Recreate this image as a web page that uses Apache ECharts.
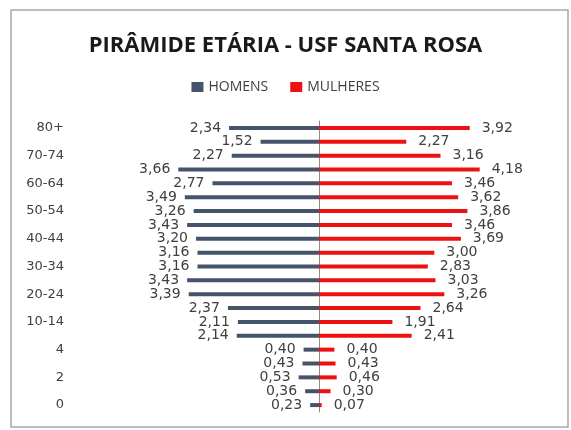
<!DOCTYPE html>
<html>
<head>
<meta charset="utf-8">
<script src="https://cdn.jsdelivr.net/npm/echarts@6/dist/echarts.min.js"></script>
<style>
  html, body { margin: 0; padding: 0; background: #fff; }
  #chart { width: 571px; height: 430px; }
</style>
</head>
<body>
<div id="chart"></div>
<script>
// faixas etárias, de cima para baixo
var faixas = ['80+', '75-79', '70-74', '65-69', '60-64', '55-59', '50-54', '45-49',
  '40-44', '35-39', '30-34', '25-29', '20-24', '15-19', '10-14', '5-9',
  '4', '3', '2', '1', '0'];
var homens = [2.34, 1.52, 2.27, 3.66, 2.77, 3.49, 3.26, 3.43, 3.20, 3.16, 3.16,
  3.43, 3.39, 2.37, 2.11, 2.14, 0.40, 0.43, 0.53, 0.36, 0.23];
var mulheres = [3.92, 2.27, 3.16, 4.18, 3.46, 3.62, 3.86, 3.46, 3.69, 3.00, 2.83,
  3.03, 3.26, 2.64, 1.91, 2.41, 0.40, 0.43, 0.46, 0.30, 0.07];

var fmt = function (v) { return Math.abs(v).toFixed(2).replace('.', ','); };

var myChart = echarts.init(document.getElementById('chart'));
var option = {
  textStyle: { fontFamily: 'DejaVu Sans' },
  title: {
    text: 'PIRÂMIDE ETÁRIA - USF SANTA ROSA',
    left: 'center',
    top: 30,
    textStyle: { fontSize: 22, fontWeight: 'bold', color: '#1a1a1a', fontFamily: 'Open Sans' }
  },
  legend: {
    top: 75,
    left: 'center',
    icon: 'rect',
    itemWidth: 12,
    itemHeight: 10,
    itemGap: 22,
    textStyle: { fontSize: 14, color: '#404040', fontFamily: 'Open Sans' },
    data: ['HOMENS', 'MULHERES']
  },
  graphic: [{
    type: 'rect',
    shape: { x: 11, y: 10, width: 557, height: 417 },
    style: { fill: 'none', stroke: '#a8a8a8', lineWidth: 1.5 },
    silent: true
  }],
  grid: { left: 146, right: 79, top: 121, bottom: 18 },
  xAxis: {
    type: 'value',
    min: -4.5,
    max: 4.5,
    show: false
  },
  yAxis: {
    type: 'category',
    inverse: true,
    data: faixas,
    position: 'left',
    axisLine: { onZero: true, lineStyle: { color: '#8c8c8c', width: 1 } },
    axisTick: { show: false },
    axisLabel: {
      interval: 1,
      margin: 82,
      fontSize: 13,
      color: '#404040',
      fontFamily: 'DejaVu Sans'
    }
  },
  series: [
    {
      name: 'HOMENS',
      type: 'bar',
      stack: 'total',
      barWidth: 4,
      itemStyle: { color: '#44546a' },
      label: {
        show: true,
        position: 'left',
        distance: 8,
        fontSize: 14,
        color: '#404040',
        formatter: function (p) { return fmt(p.value); }
      },
      data: homens.map(function (v) { return -v; })
    },
    {
      name: 'MULHERES',
      type: 'bar',
      stack: 'total',
      barWidth: 4,
      itemStyle: { color: '#ee1111' },
      label: {
        show: true,
        position: 'right',
        distance: 12,
        fontSize: 14,
        color: '#404040',
        formatter: function (p) { return fmt(p.value); }
      },
      data: mulheres
    }
  ]
};
myChart.setOption(option);
</script>
</body>
</html>
